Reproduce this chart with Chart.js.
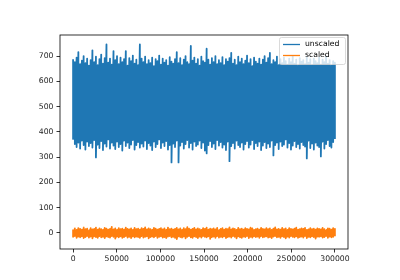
<!DOCTYPE html>
<html>
<head>
<meta charset="utf-8">
<script src="https://cdn.jsdelivr.net/npm/chart.js@4"></script>
<style>
  html, body { margin: 0; padding: 0; background: #fff; }
  #wrap { width: 400px; height: 280px; position: relative; }
</style>
</head>
<body>
<div id="wrap"><canvas id="chart"></canvas></div>
<script>
// sample index runs 0 .. 300000; the noise is read as a top and bottom value per ~2000 samples
const xMax = 300000;
const xTicks = [0, 50000, 100000, 150000, 200000, 250000, 300000];
const yTicks = [0, 100, 200, 300, 400, 500, 600, 700];
const seriesNames = ['unscaled', 'scaled'];

const unscaledHigh = [
    688, 676, 694, 716, 668, 682, 700, 672, 690, 662,
    684, 723, 676, 698, 664, 688, 706, 670, 692, 746,
    674, 690, 666, 720, 684, 700, 668, 694, 676, 688,
    720, 662, 692, 680, 702, 670, 686, 664, 746, 690,
    676, 698, 668, 684, 672, 694, 660, 688, 680, 702,
    666, 690, 674, 684, 662, 696, 678, 670, 688, 716,
    672, 692, 664, 686, 700, 676, 668, 740, 682, 694,
    670, 688, 662, 698, 680, 674, 729, 686, 666, 692,
    676, 700, 668, 684, 672, 696, 664, 688, 678, 692,
    713, 670, 686, 664, 698, 676, 690, 668, 682, 702,
    672, 688, 660, 694, 678, 670, 690, 666, 686, 700,
    674, 692, 713, 668, 684, 676, 698, 664, 688, 672,
    694, 680, 666, 690, 676, 700, 670, 686, 662, 692,
    678, 684, 668, 696, 674, 688, 664, 690, 680, 672,
    694, 666, 686, 676, 698, 670, 684, 662, 680, 674
];

const unscaledLow = [
    372, 352, 340, 358, 334, 366, 348, 330, 362, 344,
    356, 338, 368, 299, 350, 336, 364, 328, 354, 342,
    370, 334, 358, 346, 332, 362, 340, 352, 326, 366,
    344, 358, 336, 350, 368, 330, 348, 360, 338, 354,
    342, 366, 332, 356, 346, 328, 362, 340, 352, 370,
    336, 358, 344, 364, 330, 348, 279, 354, 340, 366,
    279, 346, 360, 334, 352, 368, 338, 356, 330, 362,
    344, 350, 366, 336, 358, 326, 315, 348, 364, 340,
    354, 332, 368, 346, 360, 338, 350, 328, 362, 284,
    344, 356, 334, 366, 348, 340, 358, 330, 352, 364,
    338, 350, 368, 332, 356, 344, 362, 328, 346, 360,
    336, 354, 340, 366, 307, 348, 358, 332, 362, 344,
    350, 370, 338, 356, 330, 346, 364, 340, 352, 334,
    360, 348, 342, 295, 366, 336, 354, 330, 358, 346,
    340, 303, 362, 334, 352, 368, 344, 338, 360, 372
];

const scaledHigh = [
    14, 18, 12, 20, 16, 13, 22, 15, 17, 11,
    19, 14, 16, 21, 13, 18, 15, 12, 20, 17,
    13, 16, 24, 14, 18, 12, 19, 15, 17, 13,
    21, 16, 14, 18, 12, 20, 15, 17, 13, 19,
    16, 22, 14, 18, 15, 12, 20, 17, 13, 16,
    19, 14, 18, 12, 21, 15, 17, 13, 16, 20,
    14, 18, 12, 19, 15, 23, 17, 13, 16, 20,
    14, 18, 15, 12, 19, 16, 21, 13, 17, 15,
    18, 14, 20, 12, 16, 19, 13, 17, 15, 22,
    14, 18, 16, 12, 20, 15, 17, 13, 19, 16,
    14, 21, 18, 12, 15, 17, 13, 20, 16, 14,
    19, 15, 18, 12, 17, 22, 14, 16, 13, 20,
    15, 18, 12, 19, 16, 14, 17, 21, 13, 15,
    18, 16, 20, 12, 14, 19, 15, 17, 13, 18,
    16, 14, 20, 15, 12, 18, 17, 13, 19, 16
];

const scaledLow = [
    -15, -12, -19, -14, -17, -13, -20, -16, -12, -18,
    -14, -21, -13, -16, -19, -12, -17, -15, -20, -13,
    -16, -18, -12, -15, -22, -14, -17, -13, -19, -16,
    -12, -18, -15, -20, -13, -17, -14, -16, -19, -12,
    -18, -15, -13, -21, -16, -14, -17, -12, -19, -15,
    -13, -18, -16, -20, -14, -12, -17, -15, -19, -24,
    -13, -16, -18, -14, -21, -15, -12, -17, -19, -13,
    -16, -20, -14, -18, -12, -15, -17, -13, -23, -16,
    -14, -19, -12, -18, -15, -17, -13, -20, -16, -14,
    -18, -12, -15, -21, -13, -17, -19, -14, -16, -12,
    -20, -15, -18, -13, -16, -14, -19, -12, -17, -15,
    -13, -18, -16, -20, -14, -12, -17, -15, -19, -13,
    -16, -21, -14, -18, -12, -15, -17, -13, -19, -16,
    -14, -18, -12, -20, -15, -17, -13, -16, -22, -14,
    -15, -13, -18, -16, -12, -19, -14, -17, -15, -13
];

const colors = ['#1f77b4', '#ff7f0e'];

// walk the noise: at each x go from the high value down to the low one, then jump to the next x
function toPoints(high, low) {
    const n = Math.min(high.length, low.length);
    const step = xMax / (n - 1);
    const pts = [];
    for (let i = 0; i < n; i++) {
        const x = i * step;
        pts.push({ x: x, y: high[i] }, { x: x, y: low[i] });
    }
    return pts;
}

const FONT = { family: 'DejaVu Sans', size: 7.7 };

// matplotlib style frame on all four sides
const framePlugin = {
    id: 'frame',
    afterDraw(chart) {
        const { ctx, chartArea: a } = chart;
        ctx.save();
        ctx.strokeStyle = '#000';
        ctx.lineWidth = 0.8;
        ctx.strokeRect(a.left, a.top, a.right - a.left, a.bottom - a.top);
        ctx.restore();
    }
};

// legend box in the upper right corner
const legendPlugin = {
    id: 'boxLegend',
    afterDatasetsDraw(chart) {
        const ctx = chart.ctx;
        const a = chart.chartArea;
        const w = 66, h = 27;
        const x = a.right - 3 - w, y = a.top + 2;
        ctx.save();
        ctx.fillStyle = 'rgba(255,255,255,0.8)';
        ctx.strokeStyle = '#d0d0d0';
        ctx.lineWidth = 0.8;
        ctx.beginPath();
        ctx.roundRect(x + 0.5, y + 0.5, w, h, 2);
        ctx.fill();
        ctx.stroke();
        ctx.font = `${FONT.size}px ${FONT.family}`;
        ctx.textBaseline = 'middle';
        seriesNames.forEach((name, i) => {
            const ly = y + 7.5 + i * 11;
            ctx.strokeStyle = colors[i];
            ctx.lineWidth = 1.3;
            ctx.beginPath();
            ctx.moveTo(x + 4, ly);
            ctx.lineTo(x + 21, ly);
            ctx.stroke();
            ctx.fillStyle = '#000';
            ctx.fillText(name, x + 26, ly);
        });
        ctx.restore();
    }
};

// round joins: the default miter joins throw long points off the sharp zigzag corners
const lineStyle = {
    borderWidth: 1.8,
    borderJoinStyle: 'round',
    borderCapStyle: 'butt',
    pointRadius: 0,
    tension: 0.000001,
    fill: false
};

new Chart(document.getElementById('chart'), {
    type: 'line',
    data: {
        datasets: [
            Object.assign({ label: seriesNames[0], data: toPoints(unscaledHigh, unscaledLow), borderColor: colors[0] }, lineStyle),
            Object.assign({ label: seriesNames[1], data: toPoints(scaledHigh, scaledLow), borderColor: colors[1] }, lineStyle)
        ]
    },
    options: {
        responsive: true,
        maintainAspectRatio: false,
        animation: false,
        events: [],
        layout: { padding: { left: 0, right: 52, top: 35, bottom: 0 } },
        plugins: {
            legend: { display: false },
            tooltip: { enabled: false }
        },
        scales: {
            x: {
                type: 'linear',
                min: -15000,
                max: 315000,
                afterFit: s => { s.height = 31; },
                afterBuildTicks: s => { s.ticks = xTicks.map(v => ({ value: v })); },
                border: { display: false },
                grid: { drawOnChartArea: false, drawTicks: true, tickLength: 3.5, tickColor: '#000', lineWidth: 0.8 },
                ticks: { color: '#222', font: FONT, padding: 2, maxRotation: 0, autoSkip: false, callback: v => String(v) }
            },
            y: {
                min: -63.5,
                max: 783.5,
                afterFit: s => { s.width = 60; },
                afterBuildTicks: s => { s.ticks = yTicks.map(v => ({ value: v })); },
                border: { display: false },
                grid: { drawOnChartArea: false, drawTicks: true, tickLength: 3.5, tickColor: '#000', lineWidth: 0.8 },
                ticks: { color: '#222', font: FONT, padding: 3, autoSkip: false, callback: v => String(v) }
            }
        }
    },
    plugins: [framePlugin, legendPlugin]
});
</script>
</body>
</html>
